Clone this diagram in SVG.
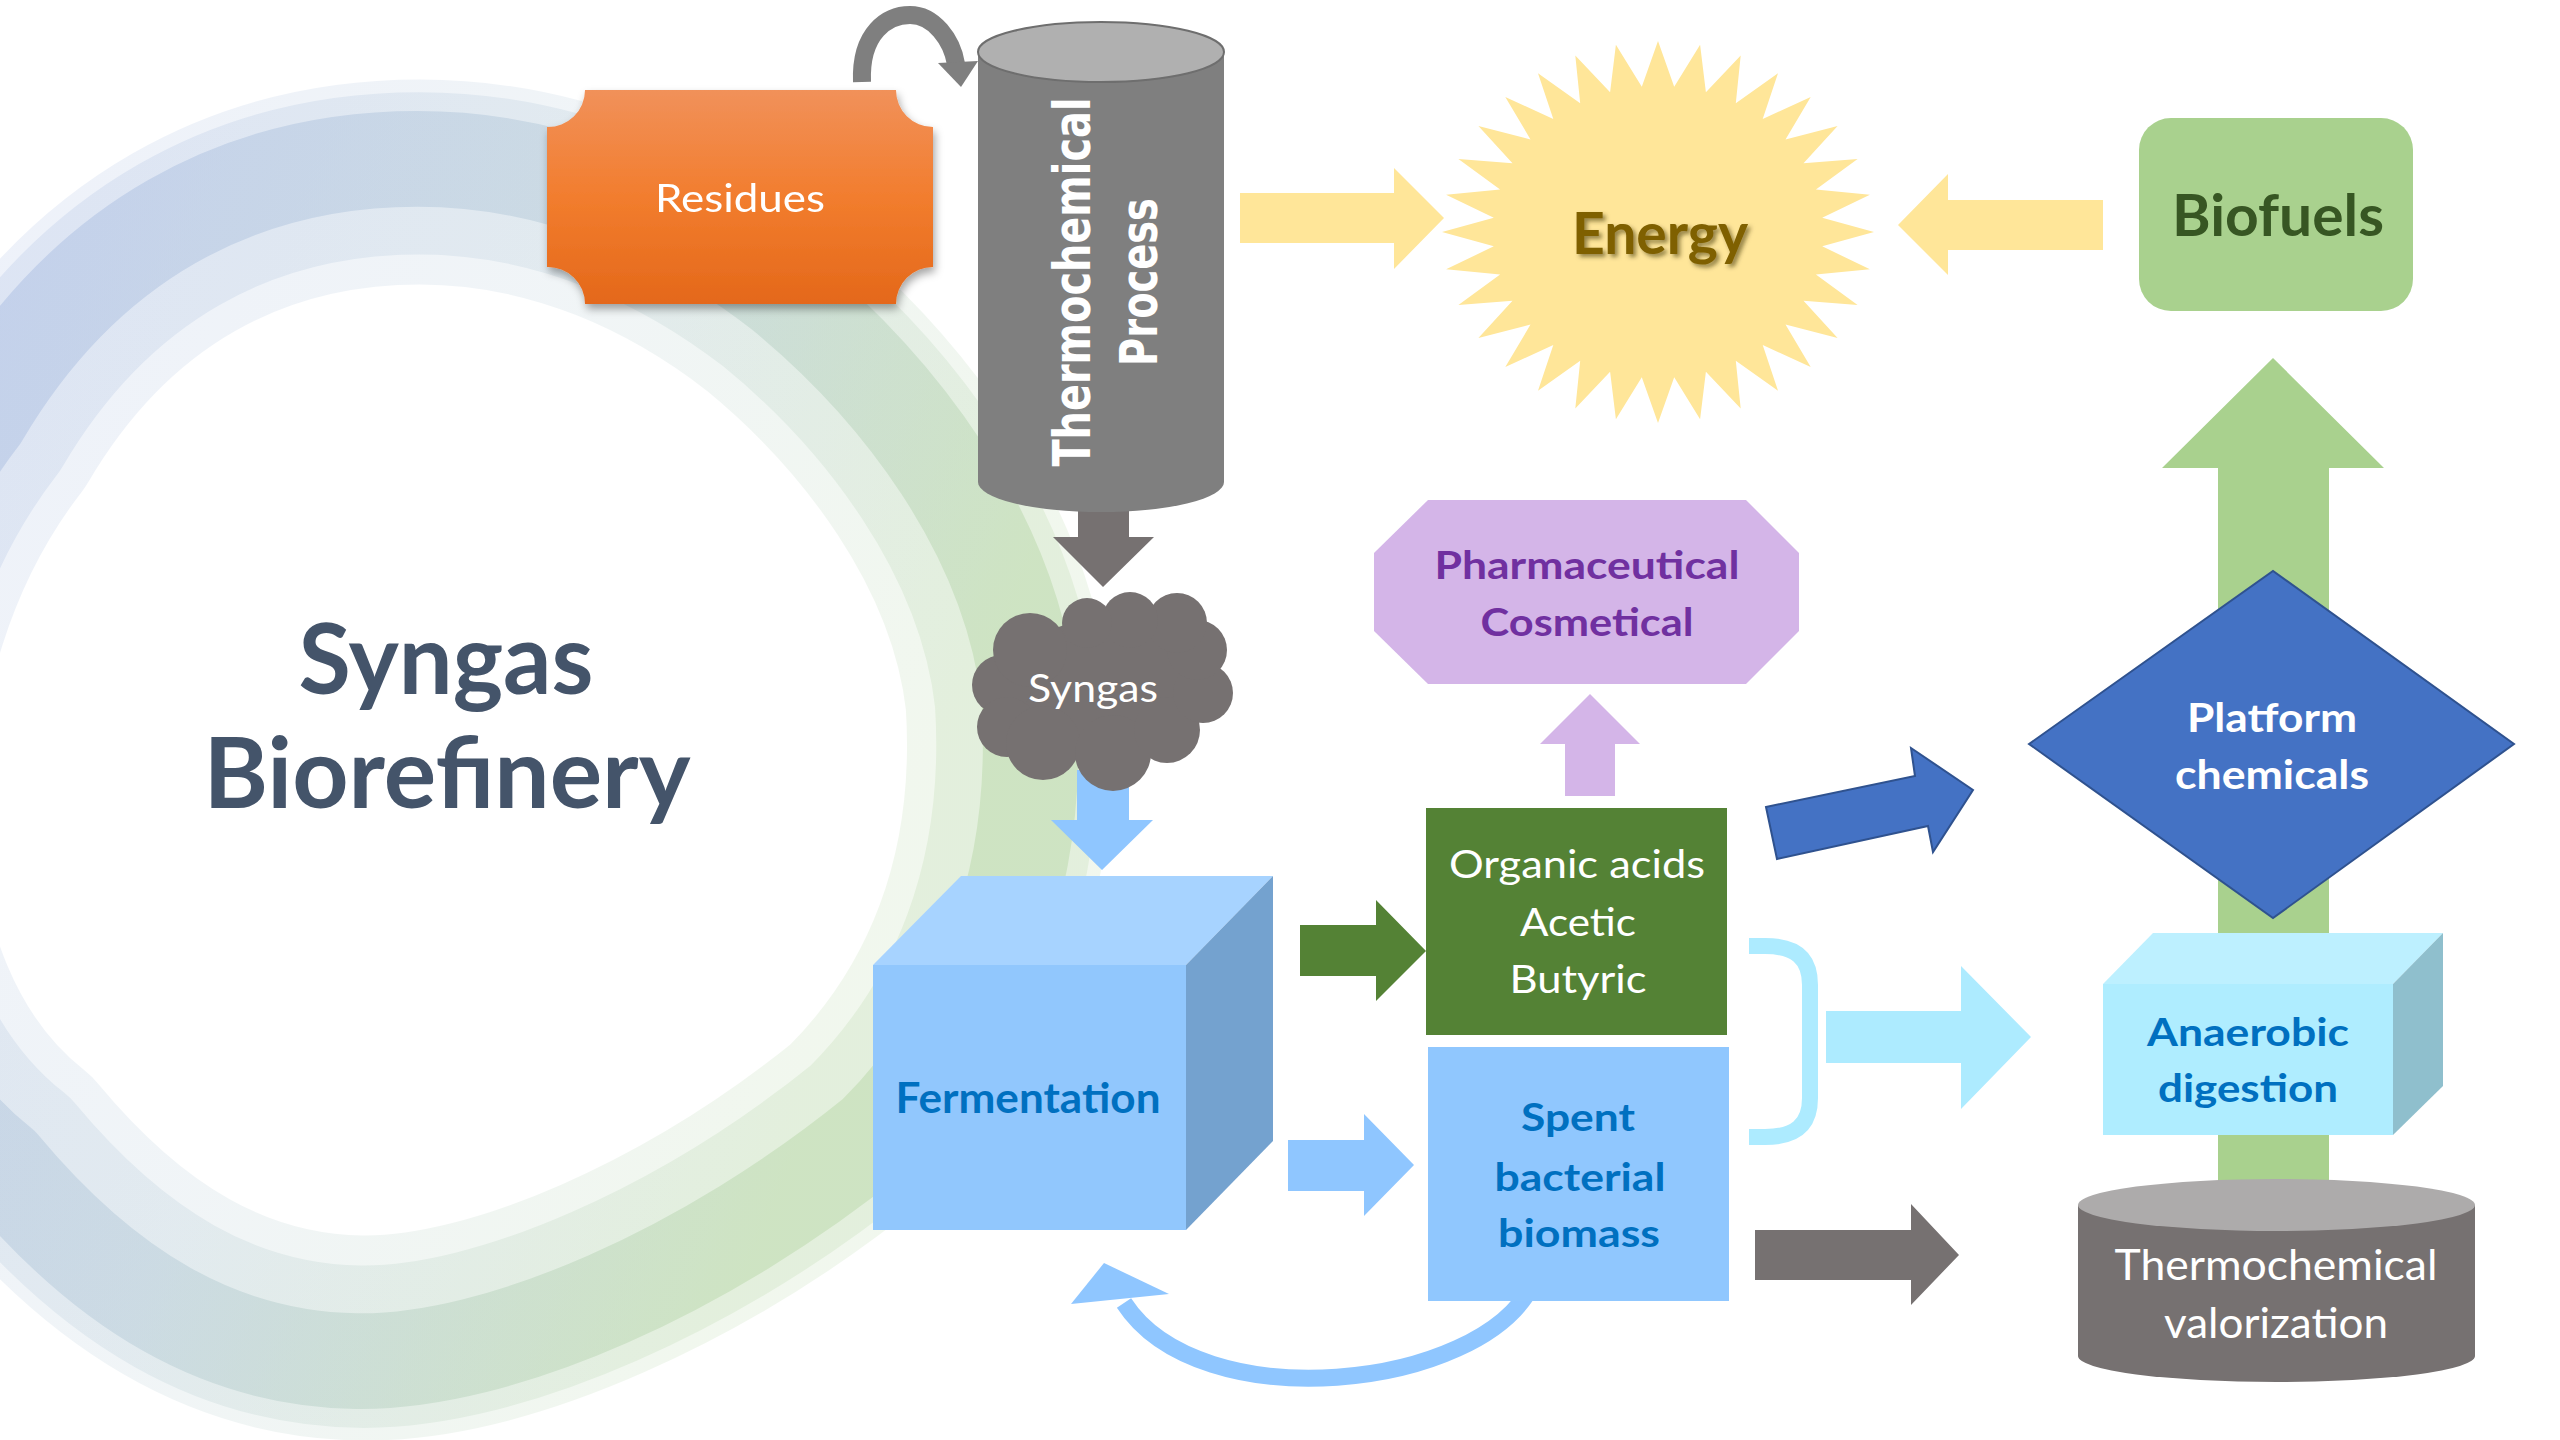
<svg xmlns="http://www.w3.org/2000/svg" width="2560" height="1440" viewBox="0 0 2560 1440">
<defs>
<linearGradient id="ringGrad" gradientUnits="userSpaceOnUse" x1="0" y1="200" x2="1000" y2="600">
<stop offset="0" stop-color="#A9BCE4"/>
<stop offset="0.5" stop-color="#B6CBD8"/>
<stop offset="1" stop-color="#B9D8A9"/>
</linearGradient>
<linearGradient id="resGrad" x1="0" y1="0" x2="0" y2="1">
<stop offset="0" stop-color="#F1915A"/>
<stop offset="0.5" stop-color="#F27D2E"/>
<stop offset="1" stop-color="#E4681A"/>
</linearGradient>
<filter id="shadow" x="-10%" y="-10%" width="130%" height="130%">
<feDropShadow dx="2" dy="5" stdDeviation="4" flood-color="#000" flood-opacity="0.35"/>
</filter>
<filter id="txtShadow" x="-10%" y="-20%" width="130%" height="150%">
<feDropShadow dx="3" dy="3" stdDeviation="2" flood-color="#3a3000" flood-opacity="0.55"/>
</filter>
<path id="ringPath" d="M 420 182 C 560 182, 680 240, 770 310 C 880 400, 990 540, 1008 700 C 1020 880, 960 1020, 860 1120 C 700 1250, 500 1340, 361 1338 C 230 1336, 120 1270, 20 1150 C -170 1000, -170 650, 0 430 C 100 260, 250 182, 420 182 Z"/>
</defs>
<style>
.t{font-family:Lato,"Open Sans","Liberation Sans",sans-serif;text-anchor:middle}
.b{font-weight:700}
.w{fill:#FFFFFF}
.blue{fill:#0070C0}
</style>
<rect x="0" y="0" width="2560" height="1440" fill="#FFFFFF"/>

<g id="background-ring" fill="none" stroke="url(#ringGrad)" stroke-linejoin="round">
<use href="#ringPath" stroke-width="205" opacity="0.2"/>
<use href="#ringPath" stroke-width="160" opacity="0.25" transform="translate(480,760) scale(1.015) translate(-480,-760)"/>
<use href="#ringPath" stroke-width="92" opacity="0.5" transform="translate(480,760) scale(1.04) translate(-480,-760)"/>
</g>

<g id="title">
<text class="t b" x="446" y="694" font-size="98" fill="#44546A" textLength="295" lengthAdjust="spacingAndGlyphs">Syngas</text>
<text class="t b" x="447" y="808" font-size="98" fill="#44546A" textLength="487" lengthAdjust="spacingAndGlyphs">Biorefinery</text>
</g>

<g id="connectors">
<path id="loop-arrow" d="M 862 82 C 860 32, 888 15, 910 15 C 934 15, 952 40, 956 64" fill="none" stroke="#7F7F7F" stroke-width="18"/>
<polygon points="938,63 978,61 961,87" fill="#7F7F7F"/>
<polygon id="arrow-cyl-syngas" points="1078,500 1129,500 1129,537 1154,537 1103,587 1053,537 1078,537" fill="#767171"/>
<polygon id="arrow-syngas-ferm" points="1077,770 1129,770 1129,820 1153,820 1102,870 1051,820 1077,820" fill="#8FC6FF"/>
<polygon id="arrow-thermo-energy" points="1240,193 1394,193 1394,168 1444,218 1394,269 1394,243 1240,243" fill="#FFE699"/>
<polygon id="arrow-biofuels-energy" points="2103,200 1948,200 1948,174 1898,225 1948,275 1948,250 2103,250" fill="#FFE699"/>
<polygon id="arrow-ferm-organic" points="1300,925 1376,925 1376,900 1426,951 1376,1001 1376,976 1300,976" fill="#548235"/>
<polygon id="arrow-ferm-spent" points="1288,1140 1364,1140 1364,1114 1414,1165 1364,1216 1364,1191 1288,1191" fill="#8FC6FF"/>
<polygon id="arrow-organic-pharma" points="1565,796 1565,744 1540,744 1590,694 1640,744 1615,744 1615,796" fill="#D4B5E8"/>
<polygon id="arrow-organic-platform" points="1766,807 1915,776 1911,748 1973,790 1933,852 1928,826 1777,859" fill="#4472C4" stroke="#2F528F" stroke-width="2"/>
<path id="bracket" d="M 1749 946 H 1765 C 1795 946, 1810 958, 1810 985 V 1098 C 1810 1125, 1795 1137, 1765 1137 H 1749" fill="none" stroke="#ADEBFF" stroke-width="16"/>
<polygon id="arrow-to-anaerobic" points="1826,1011 1961,1011 1961,966 2031,1037 1961,1109 1961,1063 1826,1063" fill="#ADEBFF"/>
<polygon id="arrow-spent-valorization" points="1755,1230 1911,1230 1911,1204 1959,1255 1911,1305 1911,1280 1755,1280" fill="#767171"/>
<polygon id="arrow-to-biofuels" points="2218,1210 2218,468 2162,468 2273,358 2384,468 2329,468 2329,1210" fill="#A9D18E"/>
<path id="arrow-spent-ferm" d="M 1532 1285 C 1480 1390, 1200 1420, 1124 1303" fill="none" stroke="#8FC6FF" stroke-width="17"/>
<polygon points="1071,1304 1104,1263 1169,1294" fill="#8FC6FF"/>
</g>

<g id="residues" filter="url(#shadow)">
<path d="M 585 90 H 896 A 37 37 0 0 0 933 127 V 267 A 37 37 0 0 0 896 304 H 585 A 37 37 0 0 0 547 267 V 127 A 37 37 0 0 0 585 90 Z" fill="url(#resGrad)"/>
<text class="t w" x="740" y="212" font-size="39" textLength="170" lengthAdjust="spacingAndGlyphs">Residues</text>
</g>

<g id="thermochemical-process">
<path d="M 978 52 V 482 A 123 30 0 0 0 1224 482 V 52 Z" fill="#7F7F7F"/>
<ellipse cx="1101" cy="52" rx="123" ry="30" fill="#B0B0B0" stroke="#6E6E6E" stroke-width="2"/>
<g transform="translate(1101,282) rotate(-90) scale(0.766,1)">
<text x="0" y="-11" font-family="'DejaVu Sans',Verdana,sans-serif" font-weight="700" font-size="52" fill="#FFFFFF" text-anchor="middle" textLength="482" lengthAdjust="spacingAndGlyphs">Thermochemical</text>
<text x="0" y="56" font-family="'DejaVu Sans',Verdana,sans-serif" font-weight="700" font-size="52" fill="#FFFFFF" text-anchor="middle" textLength="219" lengthAdjust="spacingAndGlyphs">Process</text>
</g>
</g>

<g id="syngas-cloud" fill="#767171">
<ellipse cx="1100" cy="690" rx="95" ry="70"/>
<circle cx="1002" cy="685" r="30"/>
<circle cx="1007" cy="727" r="30"/>
<circle cx="1043" cy="743" r="37"/>
<circle cx="1113" cy="753" r="38"/>
<circle cx="1167" cy="730" r="33"/>
<circle cx="1203" cy="693" r="30"/>
<circle cx="1197" cy="650" r="30"/>
<circle cx="1177" cy="623" r="30"/>
<circle cx="1130" cy="620" r="28"/>
<circle cx="1087" cy="623" r="25"/>
<circle cx="1030" cy="650" r="37"/>
<text class="t w" x="1093" y="702" font-size="39" textLength="130" lengthAdjust="spacingAndGlyphs">Syngas</text>
</g>

<g id="fermentation">
<polygon points="873,965 961,876 1273,876 1186,965" fill="#A7D3FF"/>
<polygon points="1186,965 1273,876 1273,1141 1186,1230" fill="#74A2CF"/>
<rect x="873" y="965" width="313" height="265" fill="#91C7FD"/>
<text class="t b blue" x="1028" y="1113" font-size="42" textLength="265" lengthAdjust="spacingAndGlyphs">Fermentation</text>
</g>

<g id="organic-acids">
<rect x="1426" y="808" width="301" height="227" fill="#548235"/>
<text class="t w" x="1577" y="878" font-size="39" textLength="256" lengthAdjust="spacingAndGlyphs">Organic acids</text>
<text class="t w" x="1578" y="936" font-size="39" textLength="116" lengthAdjust="spacingAndGlyphs">Acetic</text>
<text class="t w" x="1578" y="993" font-size="39" textLength="137" lengthAdjust="spacingAndGlyphs">Butyric</text>
</g>

<g id="spent-biomass">
<rect x="1428" y="1047" width="301" height="254" fill="#90C7FE"/>
<text class="t b blue" x="1578" y="1131" font-size="39" textLength="114" lengthAdjust="spacingAndGlyphs">Spent</text>
<text class="t b blue" x="1580" y="1191" font-size="39" textLength="171" lengthAdjust="spacingAndGlyphs">bacterial</text>
<text class="t b blue" x="1579" y="1247" font-size="39" textLength="162" lengthAdjust="spacingAndGlyphs">biomass</text>
</g>

<g id="pharmaceutical">
<polygon points="1428,500 1746,500 1799,553 1799,631 1746,684 1428,684 1374,631 1374,553" fill="#D4B5E8"/>
<text class="t b" x="1587" y="579" font-size="39" fill="#7030A0" textLength="305" lengthAdjust="spacingAndGlyphs">Pharmaceutical</text>
<text class="t b" x="1587" y="636" font-size="39" fill="#7030A0" textLength="213" lengthAdjust="spacingAndGlyphs">Cosmetical</text>
</g>

<g id="energy">
<polygon transform="translate(1658,232)" fill="#FFE699" points="0,-191 16.2,-145.3 42.1,-187.3 47.9,-139.7 82.7,-176.5 77.8,-128.8 120,-158.8 104.7,-112.9 152.7,-135.1 127.5,-92.6 179.6,-106.1 145.5,-68.8 199.6,-73.1 157.9,-42.4 211.9,-37.3 164.2,-14.3 216,0 164.2,14.3 211.9,37.3 157.9,42.4 199.6,73.1 145.5,68.8 179.6,106.1 127.5,92.6 152.7,135.1 104.7,112.9 120,158.8 77.8,128.8 82.7,176.5 47.9,139.7 42.1,187.3 16.2,145.3 0,191 -16.2,145.3 -42.1,187.3 -47.9,139.7 -82.7,176.5 -77.8,128.8 -120,158.8 -104.7,112.9 -152.7,135.1 -127.5,92.6 -179.6,106.1 -145.5,68.8 -199.6,73.1 -157.9,42.4 -211.9,37.3 -164.2,14.3 -216,0 -164.2,-14.3 -211.9,-37.3 -157.9,-42.4 -199.6,-73.1 -145.5,-68.8 -179.6,-106.1 -127.5,-92.6 -152.7,-135.1 -104.7,-112.9 -120,-158.8 -77.8,-128.8 -82.7,-176.5 -47.9,-139.7 -42.1,-187.3 -16.2,-145.3"/>
<text class="t b" x="1660" y="254" font-size="57" fill="#7F6000" filter="url(#txtShadow)" textLength="176" lengthAdjust="spacingAndGlyphs">Energy</text>
</g>

<g id="biofuels">
<rect x="2139" y="118" width="274" height="193" rx="32" ry="32" fill="#A9D18E"/>
<text class="t b" x="2278" y="236" font-size="57" fill="#375623" textLength="212" lengthAdjust="spacingAndGlyphs">Biofuels</text>
</g>

<g id="platform-chemicals">
<polygon points="2029,744 2273,571 2514,744 2273,918" fill="#4472C4" stroke="#2F528F" stroke-width="2"/>
<text class="t b w" x="2272" y="732" font-size="40" textLength="170" lengthAdjust="spacingAndGlyphs">Platform</text>
<text class="t b w" x="2272" y="789" font-size="40" textLength="194" lengthAdjust="spacingAndGlyphs">chemicals</text>
</g>

<g id="anaerobic-digestion">
<polygon points="2103,984 2153,933 2443,933 2393,984" fill="#BDF0FF"/>
<polygon points="2393,984 2443,933 2443,1086 2393,1135" fill="#8FBFCD"/>
<rect x="2103" y="984" width="290" height="151" fill="#AFEDFF"/>
<text class="t b blue" x="2248" y="1046" font-size="39" textLength="202" lengthAdjust="spacingAndGlyphs">Anaerobic</text>
<text class="t b blue" x="2248" y="1102" font-size="39" textLength="180" lengthAdjust="spacingAndGlyphs">digestion</text>
</g>

<g id="thermochemical-valorization">
<path d="M 2078 1205 V 1356 A 198.5 26 0 0 0 2475 1356 V 1205 Z" fill="#767171"/>
<ellipse cx="2276.5" cy="1205" rx="198.5" ry="26" fill="#ADABAB"/>
<text class="t w" x="2276" y="1280" font-size="42" textLength="323" lengthAdjust="spacingAndGlyphs">Thermochemical</text>
<text class="t w" x="2276" y="1338" font-size="42" textLength="224" lengthAdjust="spacingAndGlyphs">valorization</text>
</g>
</svg>
